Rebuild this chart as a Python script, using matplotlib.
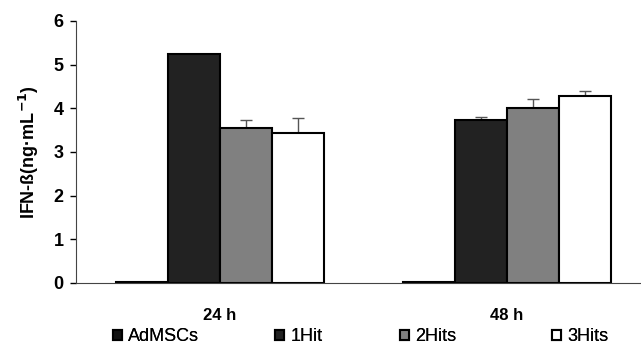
import numpy as np
import matplotlib.pyplot as plt
from matplotlib.patches import Patch

plt.rcParams['font.family'] = ['Liberation Sans', 'DejaVu Sans']

# data
groups = ["24 h", "48 h"]
series = ["AdMSCs", "1Hit", "2Hits", "3Hits"]
admscs = [0.02, 0.02]
hit1 = [5.24, 3.73]
hit2 = [3.56, 4.01]
hit3 = [3.43, 4.28]
err_admscs = [0, 0]
err_hit1 = [0, 0.07]
err_hit2 = [0.17, 0.20]
err_hit3 = [0.34, 0.12]

values = [admscs, hit1, hit2, hit3]
errors = [err_admscs, err_hit1, err_hit2, err_hit3]
colors = ["#111111", "#222222", "#808080", "#ffffff"]

fig = plt.figure(figsize=(6.41, 3.48), dpi=100)
ax = fig.add_axes([0.1186, 0.1868, 0.8814, 0.7529])

x = np.arange(len(groups))
width = 0.181
for i, (vals, errs) in enumerate(zip(values, errors)):
    pos = x + (i - 1.5) * width
    ax.bar(pos, vals, width, color=colors[i], edgecolor="black", linewidth=1.5,
           label=series[i], zorder=2)
    errs = np.array(errs)
    mask = errs > 0
    if mask.any():
        ax.errorbar(pos[mask], np.array(vals)[mask], yerr=[np.zeros(mask.sum()), errs[mask]],
                    fmt="none", ecolor="#555555", elinewidth=1, capsize=4, capthick=1, zorder=1)

ax.set_xlim(-0.502, 1.467)
ax.set_ylim(0, 6)
ax.set_yticks(range(0, 7))
ax.set_xticks(x)
ax.set_xticklabels(groups, fontweight="bold", fontsize=12)
ax.tick_params(axis="x", length=0, pad=18)
ax.tick_params(axis="y", length=4, width=1, labelsize=13, pad=5)
for lbl in ax.get_yticklabels():
    lbl.set_fontweight("bold")
ax.set_ylabel("IFN-ß(ng·mL$^{\\mathbf{-1}}$)", fontweight="bold", fontsize=13, labelpad=9)
ax.spines["top"].set_visible(False)
ax.spines["right"].set_visible(False)
ax.spines["left"].set_color("#444444")
ax.spines["bottom"].set_color("#444444")

# legend entries placed one by one, like the spread-out legend in the reference
legend_x = [0.176, 0.429, 0.624, 0.861]
for name, col, lx in zip(series, colors, legend_x):
    h = Patch(facecolor=col, edgecolor="black", linewidth=1.5)
    leg = fig.legend([h], [name], loc="center left", bbox_to_anchor=(lx, 0.032),
                     frameon=False, fontsize=13, handlelength=0.5, handleheight=0.5,
                     handletextpad=0.35, borderpad=0, borderaxespad=0)
    fig.add_artist(leg)

fig.savefig("out.png", dpi=100)
